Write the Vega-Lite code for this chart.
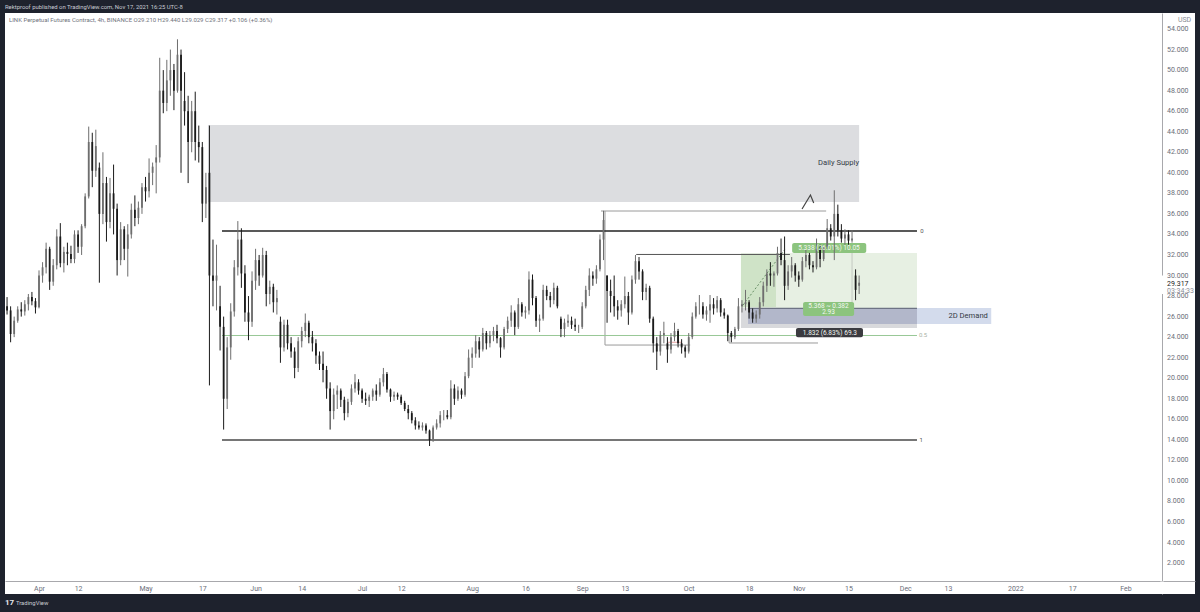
{"$schema":"https://vega.github.io/schema/vega-lite/v6.json","width":1190,"height":581,"autosize":{"type":"none"},"padding":{"left":5,"top":13,"right":5,"bottom":18},"background":"#1e222d","config":{"view":{"fill":"#ffffff","stroke":null},"text":{"font":"Roboto"}},
"resolve":{"scale":{"color":"independent"}},
"datasets":{"candles":[
{"d":"2021-03-23","o":27,"h":27.9,"l":26.2,"c":26.6},{"d":"2021-03-24","o":26.6,"h":27,"l":23.5,"c":24.3},{"d":"2021-03-25","o":24.3,"h":26,"l":24,"c":25.6},{"d":"2021-03-26","o":25.6,"h":27,"l":25.4,"c":26.7},{"d":"2021-03-27","o":26.7,"h":27.4,"l":26,"c":26.5},{"d":"2021-03-28","o":26.5,"h":27.6,"l":26.1,"c":27.2},{"d":"2021-03-29","o":27.2,"h":28.2,"l":26.6,"c":27.9},{"d":"2021-03-30","o":27.9,"h":28.4,"l":27.1,"c":27.5},{"d":"2021-03-31","o":27.5,"h":27.8,"l":26.3,"c":26.9},
{"d":"2021-04-01","o":26.9,"h":30.5,"l":26.8,"c":30},{"d":"2021-04-02","o":30,"h":31.3,"l":29.3,"c":30.8},{"d":"2021-04-03","o":30.8,"h":33.2,"l":30.2,"c":32.6},{"d":"2021-04-04","o":32.6,"h":32.8,"l":28.6,"c":29.4},{"d":"2021-04-05","o":29.4,"h":31.6,"l":29,"c":31},{"d":"2021-04-06","o":31,"h":34.5,"l":30.6,"c":33.8},{"d":"2021-04-07","o":33.8,"h":35.1,"l":30.8,"c":31.2},{"d":"2021-04-08","o":31.2,"h":32.8,"l":30.3,"c":32.3},{"d":"2021-04-09","o":32.3,"h":33.2,"l":31,"c":32.1},{"d":"2021-04-10","o":32.1,"h":32.9,"l":31.2,"c":31.6},{"d":"2021-04-11","o":31.6,"h":34.4,"l":31.2,"c":34},{"d":"2021-04-12","o":34,"h":34.4,"l":32.2,"c":32.8},{"d":"2021-04-13","o":32.8,"h":35,"l":32,"c":34.8},{"d":"2021-04-14","o":34.8,"h":38,"l":34.6,"c":37.7},{"d":"2021-04-15","o":37.7,"h":44.5,"l":37.5,"c":43},{"d":"2021-04-16","o":43,"h":43.9,"l":38.6,"c":40.2},{"d":"2021-04-17","o":40.2,"h":44.2,"l":39.6,"c":42.6},{"d":"2021-04-18","o":40.5,"h":41,"l":29.3,"c":36},{"d":"2021-04-19","o":36,"h":42,"l":35,"c":39},{"d":"2021-04-20","o":39,"h":39.6,"l":33.3,"c":35.2},{"d":"2021-04-21","o":35.2,"h":39.5,"l":34.6,"c":38},{"d":"2021-04-22","o":38,"h":40.8,"l":34,"c":36.5},{"d":"2021-04-23","o":36.5,"h":37,"l":30,"c":31.5},{"d":"2021-04-24","o":31.5,"h":35.2,"l":31,"c":34.5},{"d":"2021-04-25","o":34.5,"h":34.8,"l":31.5,"c":32.6},{"d":"2021-04-26","o":32.6,"h":35,"l":29.9,"c":34},{"d":"2021-04-27","o":34,"h":37,"l":33.6,"c":36.4},{"d":"2021-04-28","o":36.4,"h":37.8,"l":34.8,"c":35.6},{"d":"2021-04-29","o":35.6,"h":37.2,"l":35,"c":36.6},{"d":"2021-04-30","o":36.6,"h":39,"l":36,"c":38.6},
{"d":"2021-05-01","o":38.6,"h":39.6,"l":37.2,"c":38.2},{"d":"2021-05-02","o":38.2,"h":41.4,"l":37.6,"c":40},{"d":"2021-05-03","o":40,"h":41,"l":38.8,"c":40.6},{"d":"2021-05-04","o":41,"h":42.7,"l":38,"c":41.5},{"d":"2021-05-05","o":41.5,"h":51.2,"l":41,"c":48},{"d":"2021-05-06","o":48,"h":50,"l":45.8,"c":46.8},{"d":"2021-05-07","o":46.8,"h":51,"l":46,"c":49},{"d":"2021-05-08","o":49,"h":52,"l":47.5,"c":50},{"d":"2021-05-09","o":50,"h":50.6,"l":46.1,"c":48},{"d":"2021-05-10","o":48,"h":53,"l":47.8,"c":51.5},{"d":"2021-05-11","o":51.5,"h":52,"l":40,"c":48},{"d":"2021-05-12","o":47,"h":49.8,"l":44.6,"c":46},{"d":"2021-05-13","o":46,"h":47.5,"l":39,"c":43},{"d":"2021-05-14","o":43,"h":47,"l":42,"c":46},{"d":"2021-05-15","o":46,"h":47.9,"l":41.2,"c":43},{"d":"2021-05-16","o":43,"h":44.6,"l":41,"c":42.5},{"d":"2021-05-17","o":42.5,"h":43,"l":35.2,"c":37},{"d":"2021-05-18","o":37,"h":40,"l":35.6,"c":38.6},{"d":"2021-05-19","o":40,"h":44.6,"l":19.3,"c":30},{"d":"2021-05-20","o":30,"h":33.5,"l":27,"c":29.5},{"d":"2021-05-21","o":29.5,"h":33,"l":26.6,"c":30},{"d":"2021-05-22","o":27,"h":29,"l":22.7,"c":25},{"d":"2021-05-23","o":25,"h":26,"l":15,"c":18},{"d":"2021-05-24","o":18,"h":24,"l":17,"c":23},{"d":"2021-05-25","o":23,"h":27.3,"l":21.8,"c":26.5},{"d":"2021-05-26","o":26.5,"h":31.5,"l":26,"c":30.8},{"d":"2021-05-27","o":30.8,"h":35.3,"l":30,"c":33.5},{"d":"2021-05-28","o":33.5,"h":34.6,"l":28.8,"c":30.2},{"d":"2021-05-29","o":30.2,"h":31,"l":25.5,"c":26.4},{"d":"2021-05-30","o":26.4,"h":28,"l":23.7,"c":25.5},{"d":"2021-05-31","o":25.5,"h":30.4,"l":25,"c":29.5},
{"d":"2021-06-01","o":29.5,"h":32.6,"l":28.6,"c":31.5},{"d":"2021-06-02","o":31.5,"h":32,"l":29,"c":30},{"d":"2021-06-03","o":30,"h":32.7,"l":29.8,"c":32},{"d":"2021-06-04","o":32,"h":32.4,"l":27,"c":28.2},{"d":"2021-06-05","o":28.2,"h":29.5,"l":27.2,"c":28.9},{"d":"2021-06-06","o":28.9,"h":29.2,"l":26.4,"c":27.4},{"d":"2021-06-07","o":27.4,"h":28.6,"l":26.2,"c":27.8},{"d":"2021-06-08","o":25.5,"h":26,"l":21.5,"c":23},{"d":"2021-06-09","o":23,"h":25.7,"l":22.6,"c":25.2},{"d":"2021-06-10","o":25.2,"h":25.7,"l":22.8,"c":23.4},{"d":"2021-06-11","o":23.4,"h":24,"l":22,"c":22.6},{"d":"2021-06-12","o":22.6,"h":23,"l":20,"c":21},{"d":"2021-06-13","o":21,"h":24,"l":20.6,"c":23.6},{"d":"2021-06-14","o":23.6,"h":25,"l":23,"c":24.6},{"d":"2021-06-15","o":24.6,"h":26.3,"l":24,"c":25.4},{"d":"2021-06-16","o":25.4,"h":25.6,"l":23.4,"c":24},{"d":"2021-06-17","o":24,"h":24.6,"l":22.6,"c":23.4},{"d":"2021-06-18","o":23.4,"h":23.8,"l":21.4,"c":22.2},{"d":"2021-06-19","o":22.2,"h":22.6,"l":20.8,"c":21.4},{"d":"2021-06-20","o":21.4,"h":22.6,"l":19.6,"c":20.8},{"d":"2021-06-21","o":20.8,"h":21.2,"l":18,"c":19},{"d":"2021-06-22","o":19,"h":19.6,"l":15,"c":16.8},{"d":"2021-06-23","o":16.8,"h":19,"l":16,"c":18.4},{"d":"2021-06-24","o":18.4,"h":19.3,"l":17,"c":18.8},{"d":"2021-06-25","o":18.8,"h":19,"l":17.2,"c":17.9},{"d":"2021-06-26","o":17.9,"h":18.2,"l":15.9,"c":16.6},{"d":"2021-06-27","o":16.6,"h":18,"l":16.2,"c":17.7},{"d":"2021-06-28","o":17.7,"h":19.4,"l":17.4,"c":19},{"d":"2021-06-29","o":19,"h":20.4,"l":18.6,"c":19.6},{"d":"2021-06-30","o":19.6,"h":19.9,"l":18.4,"c":18.8},
{"d":"2021-07-01","o":18.8,"h":19,"l":17.6,"c":18},{"d":"2021-07-02","o":18,"h":18.6,"l":17.4,"c":17.8},{"d":"2021-07-03","o":17.8,"h":18.4,"l":17.2,"c":18.2},{"d":"2021-07-04","o":18.2,"h":19,"l":17.8,"c":18.8},{"d":"2021-07-05","o":18.8,"h":19.4,"l":17.8,"c":18.4},{"d":"2021-07-06","o":18.4,"h":20,"l":18.2,"c":19.6},{"d":"2021-07-07","o":19.6,"h":21,"l":19.2,"c":20.4},{"d":"2021-07-08","o":20.4,"h":20.6,"l":18.6,"c":18.9},{"d":"2021-07-09","o":18.9,"h":19,"l":17.7,"c":18.2},{"d":"2021-07-10","o":18.2,"h":18.7,"l":17.8,"c":18.4},{"d":"2021-07-11","o":18.4,"h":18.6,"l":17.9,"c":18.2},{"d":"2021-07-12","o":18.2,"h":18.4,"l":17.4,"c":17.6},{"d":"2021-07-13","o":17.6,"h":17.8,"l":16.8,"c":17},{"d":"2021-07-14","o":17,"h":17.4,"l":16,"c":16.6},{"d":"2021-07-15","o":16.6,"h":16.8,"l":15.6,"c":15.9},{"d":"2021-07-16","o":15.9,"h":16.2,"l":15,"c":15.4},{"d":"2021-07-17","o":15.4,"h":15.8,"l":15,"c":15.2},{"d":"2021-07-18","o":15.2,"h":15.7,"l":14.9,"c":15.4},{"d":"2021-07-19","o":15.4,"h":15.6,"l":14.6,"c":14.9},{"d":"2021-07-20","o":14.9,"h":15,"l":13.4,"c":14},{"d":"2021-07-21","o":14,"h":15.4,"l":13.8,"c":15.2},{"d":"2021-07-22","o":15.2,"h":16,"l":15,"c":15.6},{"d":"2021-07-23","o":15.6,"h":16.8,"l":15.2,"c":16.4},{"d":"2021-07-24","o":16.4,"h":16.9,"l":15.9,"c":16.4},{"d":"2021-07-25","o":16.4,"h":16.9,"l":16,"c":16.2},{"d":"2021-07-26","o":16.2,"h":19.8,"l":16,"c":19},{"d":"2021-07-27","o":19,"h":19.4,"l":17.4,"c":18},{"d":"2021-07-28","o":18,"h":19.2,"l":17.8,"c":18.8},{"d":"2021-07-29","o":18.8,"h":19,"l":18,"c":18.4},{"d":"2021-07-30","o":18.4,"h":20.6,"l":18.2,"c":20.2},{"d":"2021-07-31","o":20.2,"h":22.8,"l":20,"c":22},
{"d":"2021-08-01","o":22,"h":23,"l":21,"c":22.4},{"d":"2021-08-02","o":22.4,"h":24.2,"l":22,"c":23.6},{"d":"2021-08-03","o":23.6,"h":24,"l":22,"c":22.8},{"d":"2021-08-04","o":22.8,"h":24.9,"l":22.6,"c":24.4},{"d":"2021-08-05","o":24.4,"h":24.6,"l":22.8,"c":23.4},{"d":"2021-08-06","o":23.4,"h":24.6,"l":23,"c":24.2},{"d":"2021-08-07","o":24.2,"h":25,"l":23.6,"c":24.6},{"d":"2021-08-08","o":24.6,"h":25.2,"l":23.4,"c":23.9},{"d":"2021-08-09","o":23.9,"h":24,"l":22,"c":23},{"d":"2021-08-10","o":23,"h":25,"l":22.8,"c":24.8},{"d":"2021-08-11","o":24.8,"h":26,"l":24.4,"c":25.6},{"d":"2021-08-12","o":25.6,"h":27.1,"l":25,"c":26.4},{"d":"2021-08-13","o":26.4,"h":26.6,"l":24.2,"c":25},{"d":"2021-08-14","o":25,"h":27.8,"l":24.8,"c":27.2},{"d":"2021-08-15","o":27.2,"h":27.4,"l":26,"c":26.4},{"d":"2021-08-16","o":26.4,"h":27,"l":25.8,"c":26.6},{"d":"2021-08-17","o":26.6,"h":30.4,"l":26.2,"c":29.6},{"d":"2021-08-18","o":29.6,"h":30.1,"l":27.1,"c":27.8},{"d":"2021-08-19","o":27.8,"h":28,"l":25,"c":25.6},{"d":"2021-08-20","o":25.6,"h":26.2,"l":24.5,"c":25.8},{"d":"2021-08-21","o":25.8,"h":29.1,"l":25.6,"c":28.6},{"d":"2021-08-22","o":28.6,"h":29,"l":27.6,"c":28},{"d":"2021-08-23","o":28,"h":28.4,"l":26.9,"c":27.6},{"d":"2021-08-24","o":27.6,"h":29.3,"l":27.2,"c":28.8},{"d":"2021-08-25","o":28.8,"h":29,"l":26.8,"c":27},{"d":"2021-08-26","o":25.8,"h":26,"l":24,"c":24.8},{"d":"2021-08-27","o":24.8,"h":25.8,"l":24,"c":25.4},{"d":"2021-08-28","o":25.4,"h":26.2,"l":25,"c":25.6},{"d":"2021-08-29","o":25.6,"h":26,"l":24.8,"c":25.2},{"d":"2021-08-30","o":25.2,"h":25.8,"l":24.6,"c":25},{"d":"2021-08-31","o":25,"h":25.2,"l":24.4,"c":25},
{"d":"2021-09-01","o":25,"h":27.4,"l":24.8,"c":27},{"d":"2021-09-02","o":27,"h":29,"l":26.8,"c":28.6},{"d":"2021-09-03","o":28.6,"h":30.7,"l":28,"c":30},{"d":"2021-09-04","o":30,"h":30.4,"l":29,"c":29.7},{"d":"2021-09-05","o":29.7,"h":31,"l":29.2,"c":30.6},{"d":"2021-09-06","o":30.6,"h":34,"l":30.4,"c":33.5},{"d":"2021-09-07","o":33.5,"h":36.3,"l":31.5,"c":35.4},{"d":"2021-09-08","o":30,"h":30,"l":25.4,"c":28.5},{"d":"2021-09-09","o":28.5,"h":29.6,"l":26.4,"c":28},{"d":"2021-09-10","o":28,"h":30,"l":26,"c":27},{"d":"2021-09-11","o":27,"h":27.6,"l":25.7,"c":26.6},{"d":"2021-09-12","o":26.6,"h":27.6,"l":26,"c":27.2},{"d":"2021-09-13","o":27.2,"h":29.9,"l":26.8,"c":28},{"d":"2021-09-14","o":28,"h":28.4,"l":25.2,"c":26.4},{"d":"2021-09-15","o":26.4,"h":30,"l":26.2,"c":29.6},{"d":"2021-09-16","o":29.6,"h":32,"l":29.2,"c":31.4},{"d":"2021-09-17","o":31.4,"h":31.8,"l":29.6,"c":30.4},{"d":"2021-09-18","o":30.4,"h":30.6,"l":27.6,"c":28.4},{"d":"2021-09-19","o":28.4,"h":29.2,"l":27.6,"c":28.8},{"d":"2021-09-20","o":28.8,"h":29,"l":25.4,"c":25.8},{"d":"2021-09-21","o":25.8,"h":26,"l":22.5,"c":23.4},{"d":"2021-09-22","o":23.4,"h":24,"l":20.8,"c":22.6},{"d":"2021-09-23","o":22.6,"h":24.6,"l":22.2,"c":24.2},{"d":"2021-09-24","o":24.2,"h":25.5,"l":23.4,"c":24.4},{"d":"2021-09-25","o":23.4,"h":24,"l":21.5,"c":22.8},{"d":"2021-09-26","o":22.8,"h":24.4,"l":22.4,"c":24},{"d":"2021-09-27","o":24,"h":25.4,"l":23.6,"c":24.6},{"d":"2021-09-28","o":24.6,"h":24.8,"l":23,"c":23.4},{"d":"2021-09-29","o":23.4,"h":23.8,"l":22.4,"c":23},{"d":"2021-09-30","o":23,"h":23.2,"l":22,"c":22.6},
{"d":"2021-10-01","o":22.6,"h":24.4,"l":22.4,"c":24},{"d":"2021-10-02","o":24,"h":26.4,"l":23.8,"c":26},{"d":"2021-10-03","o":26,"h":27.4,"l":25.8,"c":27},{"d":"2021-10-04","o":27,"h":28.1,"l":26.2,"c":27},{"d":"2021-10-05","o":27,"h":27.4,"l":25.8,"c":26.2},{"d":"2021-10-06","o":26.2,"h":27,"l":25.6,"c":26.6},{"d":"2021-10-07","o":26.6,"h":28.1,"l":25.4,"c":27.2},{"d":"2021-10-08","o":27.2,"h":27.8,"l":26.2,"c":26.8},{"d":"2021-10-09","o":26.8,"h":28,"l":26.4,"c":27.6},{"d":"2021-10-10","o":27.6,"h":27.8,"l":26,"c":26.4},{"d":"2021-10-11","o":26.4,"h":26.8,"l":25.8,"c":26.1},{"d":"2021-10-12","o":26.1,"h":26.2,"l":23.6,"c":24.4},{"d":"2021-10-13","o":24.4,"h":24.6,"l":23.5,"c":24},{"d":"2021-10-14","o":24,"h":25,"l":23.8,"c":24.8},{"d":"2021-10-15","o":24.8,"h":27.8,"l":24.6,"c":27},{"d":"2021-10-16","o":27,"h":27.6,"l":26.4,"c":27.2},{"d":"2021-10-17","o":27.2,"h":28.6,"l":26.6,"c":27.4},{"d":"2021-10-18","o":27.4,"h":27.6,"l":25.8,"c":26.4},{"d":"2021-10-19","o":26.4,"h":26.8,"l":25.4,"c":25.8},{"d":"2021-10-20","o":25.8,"h":26.6,"l":25.4,"c":26.2},{"d":"2021-10-21","o":26.2,"h":27.9,"l":25.8,"c":27.4},{"d":"2021-10-22","o":27.4,"h":29.4,"l":27,"c":29},{"d":"2021-10-23","o":29,"h":30.6,"l":28.4,"c":30.2},{"d":"2021-10-24","o":30.2,"h":31.3,"l":29,"c":30},{"d":"2021-10-25","o":30,"h":30.4,"l":28.9,"c":30.2},{"d":"2021-10-26","o":30.2,"h":32.8,"l":30,"c":32.2},{"d":"2021-10-27","o":32.2,"h":33.6,"l":31,"c":31.5},{"d":"2021-10-28","o":31.5,"h":33.8,"l":27.6,"c":29},{"d":"2021-10-29","o":29,"h":31,"l":28.6,"c":30.4},{"d":"2021-10-30","o":30.4,"h":31.8,"l":29.8,"c":31},{"d":"2021-10-31","o":31,"h":31.2,"l":29.4,"c":30},
{"d":"2021-11-01","o":30,"h":30.4,"l":28.9,"c":29.6},{"d":"2021-11-02","o":29.6,"h":31.8,"l":29.4,"c":31.4},{"d":"2021-11-03","o":31.4,"h":32.5,"l":30.8,"c":32},{"d":"2021-11-04","o":32,"h":32.2,"l":30.6,"c":31},{"d":"2021-11-05","o":31,"h":31.4,"l":30.3,"c":30.8},{"d":"2021-11-06","o":30.8,"h":33.6,"l":30.6,"c":32.6},{"d":"2021-11-07","o":32.6,"h":33,"l":30.8,"c":31.6},{"d":"2021-11-08","o":31.6,"h":33,"l":31.4,"c":32.8},{"d":"2021-11-09","o":32.8,"h":35.5,"l":32.6,"c":34.6},{"d":"2021-11-10","o":34.6,"h":35,"l":33.4,"c":33.8},{"d":"2021-11-11","o":33.8,"h":38.3,"l":31.5,"c":36},{"d":"2021-11-12","o":36,"h":36.9,"l":33.8,"c":34.4},{"d":"2021-11-13","o":34.4,"h":35,"l":33.2,"c":33.6},{"d":"2021-11-14","o":33.6,"h":34.5,"l":33,"c":34},{"d":"2021-11-15","o":34,"h":34.4,"l":33,"c":33.4},{"d":"2021-11-16","o":33.4,"h":34.4,"l":33.2,"c":33.6},{"d":"2021-11-17","o":30,"h":30.6,"l":27.6,"c":28.6},{"d":"2021-11-18","o":29,"h":30,"l":28.2,"c":29.3}
]},
"encoding":{"x":{"field":"d","type":"temporal","scale":{"type":"utc","domain":[1616407488000,1645367040000],"padding":0},"axis":{"title":null,"orient":"bottom","offset":-13,"grid":false,"ticks":false,"domainColor":"#a8a8ac","domainWidth":1,"labelColor":"#6a6d78","labelFont":"Roboto","labelFontSize":7,"labelPadding":3,"labelAngle":0,"labelOverlap":false,"values":[1617235200000,1618185600000,1619827200000,1621209600000,1622505600000,1623628800000,1625097600000,1626048000000,1627776000000,1629072000000,1630454400000,1631491200000,1633046400000,1634515200000,1635724800000,1636934400000,1638316800000,1639353600000,1640995200000,1642377600000,1643673600000],"labelExpr":"utcdate(datum.value)==1 ? (utcmonth(datum.value)==0 ? '2022' : utcFormat(datum.value,'%b')) : utcFormat(datum.value,'%-d')"}}},
"layer":[
{"data":{"values":[{"z":"supply","d":"2021-05-18T14:00Z","d2":"2021-11-18T00:00Z","p":44.65,"p2":37.15},{"z":"light","d":"2021-10-15T17:00Z","d2":"2021-12-04T07:00Z","p":32.19,"p2":26.83},{"z":"dark","d":"2021-10-15T17:00Z","d2":"2021-10-25T14:00Z","p":32,"p2":26.93},{"z":"grey","d":"2021-10-15T17:00Z","d2":"2021-12-04T07:00Z","p":26.83,"p2":24.89},{"z":"blue","d":"2021-10-17T17:00Z","d2":"2021-12-25T05:00Z","p":26.83,"p2":25.28},{"z":"mix","d":"2021-10-17T17:00Z","d2":"2021-12-04T07:00Z","p":26.83,"p2":25.28},{"z":"mask","d":"2022-02-10T20:00Z","d2":"2022-02-11T20:00Z","p":30,"p2":28.2},{"z":"mask","d":"2022-02-10T20:00Z","d2":"2022-02-11T20:00Z","p":0.2,"p2":-1.01}]},"mark":{"type":"rect"},"encoding":{"x2":{"field":"d2"},"y":{"field":"p","type":"quantitative","scale":{"domain":[-1.01,55.56],"nice":false,"zero":false},"axis":{"title":null,"orient":"right","offset":-33,"grid":false,"ticks":false,"labels":false,"domainColor":"#a8a8ac","domainWidth":1}},"y2":{"field":"p2"},"color":{"field":"z","type":"nominal","legend":null,"scale":{"domain":["supply","light","dark","grey","blue","mix","mask"],"range":["#dcdde0","#e7f0e3","#cfe3c7","#d8d9dc","#d3dbec","#b2b7ca","#ffffff"]}}}},
{"data":{"values":[{"k":"thin","d":"2021-09-06T07:00Z","d2":"2021-11-08T17:00Z","p":36.28,"p2":36.28},{"k":"thin","d":"2021-09-07T10:00Z","d2":"2021-09-07T10:00Z","p":36.28,"p2":23.23},{"k":"thin","d":"2021-09-07T10:00Z","d2":"2021-10-01T10:00Z","p":23.23,"p2":23.23},{"k":"mid","d":"2021-09-16T05:00Z","d2":"2021-10-29T12:00Z","p":32.05,"p2":32.05},{"k":"thin","d":"2021-10-12T09:00Z","d2":"2021-11-06T10:00Z","p":23.43,"p2":23.43},{"k":"thin","d":"2021-10-12T09:00Z","d2":"2021-10-12T09:00Z","p":24.2,"p2":23.43},{"k":"faint","d":"2021-11-16T00:00Z","d2":"2021-11-16T00:00Z","p":32.2,"p2":27.4},{"k":"pink","d":"2021-09-25T00:00Z","d2":"2021-09-29T00:00Z","p":23.5,"p2":23.5},{"k":"fib","d":"2021-05-22T13:00Z","d2":"2021-12-04T07:00Z","p":24.16,"p2":24.16}]},"mark":{"type":"rule","strokeWidth":1},"encoding":{"x2":{"field":"d2"},"y":{"field":"p","type":"quantitative"},"y2":{"field":"p2"},"color":{"field":"k","type":"nominal","legend":null,"scale":{"domain":["thin","mid","faint","pink","fib"],"range":["#9a9a9a","#555555","#c4c9c2","#e8a4a4","#98c896"]}}}},
{"data":{"values":[{"k":"zero","d":"2021-05-22T13:00Z","d2":"2021-12-04T07:00Z","p":34.33,"p2":34.33},{"k":"one","d":"2021-05-22T13:00Z","d2":"2021-12-04T07:00Z","p":13.98,"p2":13.98},{"k":"edge","d":"2021-10-17T17:00Z","d2":"2021-12-04T07:00Z","p":26.8,"p2":26.8}]},"mark":{"type":"rule","strokeWidth":1.4},"encoding":{"x2":{"field":"d2"},"y":{"field":"p","type":"quantitative"},"y2":{"field":"p2"},"color":{"field":"k","type":"nominal","legend":null,"scale":{"domain":["zero","one","edge"],"range":["#222222","#484848","#6e7385"]}}}},
{"data":{"values":[{"d":"2021-10-16T07:00Z","p":27.12},{"d":"2021-10-28T00:00Z","p":32.5}]},"mark":{"type":"line","color":"#4d7a4d","strokeWidth":0.8,"strokeDash":[2,2]},"encoding":{"y":{"field":"p","type":"quantitative"}}},
{"data":{"values":[{"d":"2021-11-01T22:00Z","p":36.47},{"d":"2021-11-04T07:00Z","p":37.84},{"d":"2021-11-05T05:00Z","p":37.06}]},"mark":{"type":"line","color":"#444444","strokeWidth":1.2},"encoding":{"y":{"field":"p","type":"quantitative"}}},
{"data":{"values":[{"t":"green","d":"2021-10-30T03:00Z","d2":"2021-11-20T00:00Z","p":33.16,"p2":32.19},{"t":"green","d":"2021-11-02T05:00Z","d2":"2021-11-16T14:00Z","p":27.42,"p2":26.05},{"t":"darkTag","d":"2021-10-31T05:00Z","d2":"2021-11-19T02:00Z","p":24.89,"p2":24}]},"mark":{"type":"rect","cornerRadius":2},"encoding":{"x2":{"field":"d2"},"y":{"field":"p","type":"quantitative"},"y2":{"field":"p2"},"color":{"field":"t","type":"nominal","legend":null,"scale":{"domain":["green","darkTag"],"range":["#8cc47e","#3b3b40"]}}}},
{"data":{"name":"candles"},"mark":{"type":"rule","strokeWidth":1},"encoding":{"y":{"field":"h","type":"quantitative"},"y2":{"field":"l"},"color":{"condition":{"test":"datum.c<datum.o","value":"#1a1a1a"},"value":"#6e6e6e"}}},
{"data":{"name":"candles"},"mark":{"type":"bar","size":1.8},"encoding":{"y":{"field":"o","type":"quantitative"},"y2":{"field":"c"},"color":{"condition":{"test":"datum.c<datum.o","value":"#1a1a1a"},"value":"#6e6e6e"}}},
{"data":{"values":[{"t":"5.338 (26.01%) 10.05","d":"2021-11-09T12:00Z","p":32.68},{"t":"5.368 ~ 0.382","d":"2021-11-09T09:00Z","p":27.03},{"t":"2.93","d":"2021-11-09T09:00Z","p":26.4},{"t":"1.832 (6.83%) 69.3","d":"2021-11-09T18:00Z","p":24.45}]},"mark":{"type":"text","color":"#f4f8f2","fontSize":6.5,"font":"Roboto","align":"center","baseline":"middle"},"encoding":{"y":{"field":"p","type":"quantitative"},"text":{"field":"t"}}},
{"data":{"values":[{"t":"Daily Supply","d":"2021-11-12T05:00Z","p":40.95},{"t":"2D Demand","d":"2021-12-18T17:00Z","p":26.05}]},"mark":{"type":"text","color":"#333a45","fontSize":7.6,"font":"Roboto","align":"center","baseline":"middle"},"encoding":{"y":{"field":"p","type":"quantitative"},"text":{"field":"t"}}},
{"data":{"values":[{"t":"0","k":"a","d":"2021-12-05T05:00Z","p":34.33},{"t":"1","k":"a","d":"2021-12-05T00:00Z","p":13.98},{"t":"0.5","k":"b","d":"2021-12-04T20:00Z","p":24.16}]},"mark":{"type":"text","fontSize":6,"font":"Roboto","align":"left","baseline":"middle"},"encoding":{"y":{"field":"p","type":"quantitative"},"text":{"field":"t"},"color":{"field":"k","type":"nominal","legend":null,"scale":{"domain":["a","b"],"range":["#555555","#a9b3a6"]}}}},
{"data":{"values":[{"p":54,"d":"2022-02-12T17:00Z"},{"p":52,"d":"2022-02-12T17:00Z"},{"p":50,"d":"2022-02-12T17:00Z"},{"p":48,"d":"2022-02-12T17:00Z"},{"p":46,"d":"2022-02-12T17:00Z"},{"p":44,"d":"2022-02-12T17:00Z"},{"p":42,"d":"2022-02-12T17:00Z"},{"p":40,"d":"2022-02-12T17:00Z"},{"p":38,"d":"2022-02-12T17:00Z"},{"p":36,"d":"2022-02-12T17:00Z"},{"p":34,"d":"2022-02-12T17:00Z"},{"p":32,"d":"2022-02-12T17:00Z"},{"p":30,"d":"2022-02-12T17:00Z"},{"p":28,"d":"2022-02-12T17:00Z"},{"p":26,"d":"2022-02-12T17:00Z"},{"p":24,"d":"2022-02-12T17:00Z"},{"p":22,"d":"2022-02-12T17:00Z"},{"p":20,"d":"2022-02-12T17:00Z"},{"p":18,"d":"2022-02-12T17:00Z"},{"p":16,"d":"2022-02-12T17:00Z"},{"p":14,"d":"2022-02-12T17:00Z"},{"p":12,"d":"2022-02-12T17:00Z"},{"p":10,"d":"2022-02-12T17:00Z"},{"p":8,"d":"2022-02-12T17:00Z"},{"p":6,"d":"2022-02-12T17:00Z"},{"p":4,"d":"2022-02-12T17:00Z"},{"p":2,"d":"2022-02-12T17:00Z"}]},"mark":{"type":"text","fontSize":7,"font":"Roboto","color":"#6a6d78","align":"left","baseline":"middle"},"encoding":{"y":{"field":"p","type":"quantitative"},"text":{"field":"p","type":"quantitative","format":".3f"}}},
{"data":{"values":[{"t":"USD","k":"usd","d":"2022-02-15T19:00Z","p":54.88},{"t":"29.317","k":"last","d":"2022-02-12T17:00Z","p":29.2},{"t":"03:34:33","k":"usd","d":"2022-02-12T17:00Z","p":28.49}]},"mark":{"type":"text","fontSize":7,"font":"Roboto","align":"left","baseline":"middle"},"encoding":{"y":{"field":"p","type":"quantitative"},"text":{"field":"t"},"color":{"field":"k","type":"nominal","legend":null,"scale":{"domain":["usd","last"],"range":["#8a8d96","#222222"]}}}},
{"data":{"values":[{"t":"LINK Perpetual Futures Contract, 4h, BINANCE  O29.210  H29.440  L29.029  C29.317  +0.106 (+0.36%)","d":"2021-03-23T13:00Z","p":54.88}]},"mark":{"type":"text","fontSize":6,"font":"Roboto","color":"#6f727c","align":"left","baseline":"middle"},"encoding":{"y":{"field":"p","type":"quantitative"},"text":{"field":"t"}}},
{"data":{"values":[{"t":"Rektproof published on TradingView.com, Nov 17, 2021 16:25 UTC-8","d":"2021-03-22T10:00Z","p":56.14},{"t":"TradingView","d":"2021-03-25T12:00Z","p":-1.89}]},"mark":{"type":"text","fontSize":5.9,"font":"Roboto","color":"#c9ccd4","align":"left","baseline":"middle"},"encoding":{"y":{"field":"p","type":"quantitative"},"text":{"field":"t"}}},
{"data":{"values":[{"t":"17","d":"2021-03-22T10:00Z","p":-1.89}]},"mark":{"type":"text","fontSize":8,"fontWeight":"bold","font":"Roboto","color":"#e8e9ec","align":"left","baseline":"middle"},"encoding":{"y":{"field":"p","type":"quantitative"},"text":{"field":"t"}}}
]}
